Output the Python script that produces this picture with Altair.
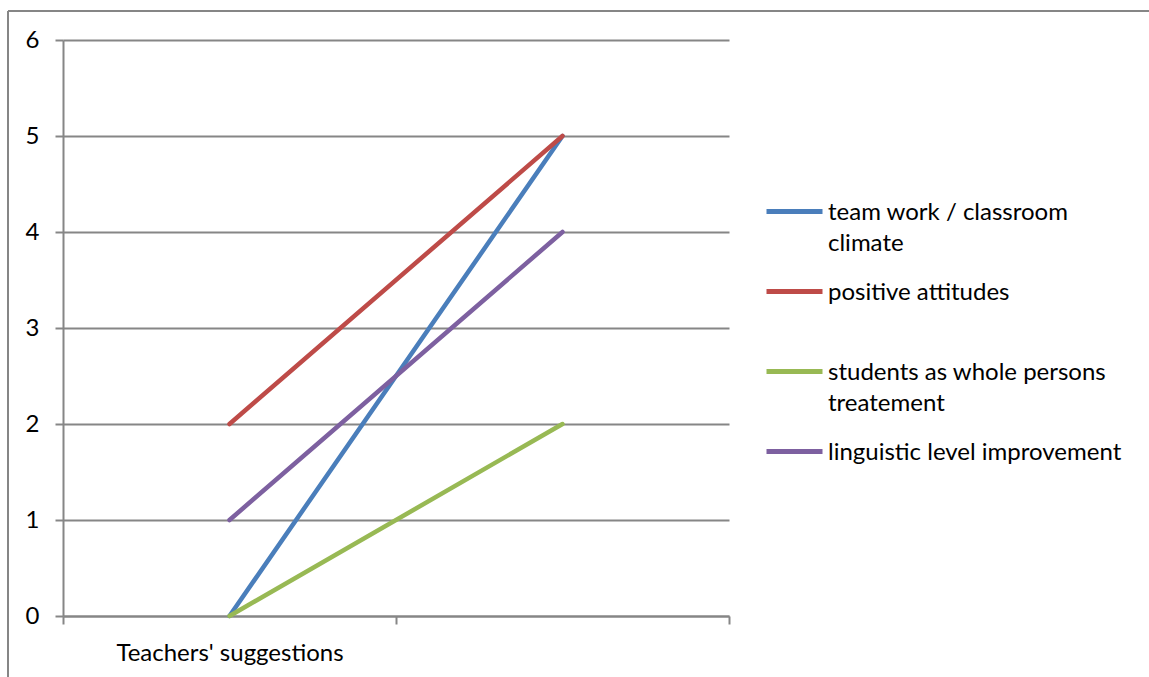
import altair as alt
import pandas as pd

# Categories on the x axis (the second one carries no label)
categories = ["Teachers' suggestions", ""]

# Series names and their values per category
series = [
    "team work / classroom climate",
    "positive attitudes",
    "students as whole persons treatement",
    "linguistic level improvement",
]
team_work = [0, 5]
positive = [2, 5]
whole_persons = [0, 2]
linguistic = [1, 4]

colors = ["#4A7EBB", "#BE4B48", "#98B954", "#7D60A0"]

# Wrapped legend text for the long names
wrapped = {
    "team work / classroom climate": ["team work / classroom", "climate"],
    "students as whole persons treatement": ["students as whole persons", "treatement"],
}

rows = []
for name, vals in zip(series, [team_work, positive, whole_persons, linguistic]):
    for cat, v in zip(categories, vals):
        rows.append({"category": cat, "series": name, "value": v})
df = pd.DataFrame(rows)

label_expr = " : ".join(
    f"datum.label == '{k}' ? {v!r}" for k, v in wrapped.items()
) + " : datum.label"

FONT = "Lato"
FSIZE = 24
GRID = "#868686"
# Shared label lift (moves legend labels onto their symbol line; axes compensate)
LIFT = 11

lines = alt.Chart(df).mark_line(strokeWidth=4.5, strokeCap="round").encode(
    x=alt.X(
        "category:N",
        sort=categories,
        bandPosition=0.5,
        scale=alt.Scale(type="band", paddingInner=0, paddingOuter=0),
        axis=alt.Axis(
            title=None,
            labelAngle=0,
            tickBand="extent",
            grid=False,
            domainColor=GRID,
            tickColor=GRID,
            domainWidth=2,
            tickWidth=2,
            tickSize=8,
            labelPadding=17 + LIFT,
            labelLimit=400,
            labelFontSize=FSIZE,
            labelFont=FONT,
            labelColor="#000000",
        ),
    ),
    y=alt.Y(
        "value:Q",
        scale=alt.Scale(domain=[0, 6], nice=False),
        axis=alt.Axis(
            title=None,
            values=[0, 1, 2, 3, 4, 5, 6],
            grid=True,
            gridColor=GRID,
            gridWidth=2,
            domainColor=GRID,
            tickColor=GRID,
            domainWidth=2,
            tickWidth=2,
            tickSize=8,
            labelPadding=16,
            labelOffset=LIFT,
            labelFontSize=FSIZE,
            labelFont=FONT,
            labelColor="#000000",
        ),
    ),
    color=alt.Color(
        "series:N",
        sort=series,
        scale=alt.Scale(domain=series, range=colors),
        legend=alt.Legend(
            title=None,
            orient="none",
            legendX=701,
            legendY=141,
            symbolType="stroke",
            symbolSize=3136,
            symbolStrokeWidth=5,
            labelExpr=label_expr,
            labelFont=FONT,
            labelFontSize=FSIZE,
            labelColor="#000000",
            labelOffset=3,
            labelBaseline="top",
            labelLimit=420,
            rowPadding=5,
            gridAlign="all",
        ),
    ),
)

# Outer frame of the chart
frame_top = alt.Chart(df).mark_rule(color=GRID, strokeWidth=1.5).encode(
    x=alt.value(-55), x2=alt.value(1100), y=alt.value(-29)
)
frame_left = alt.Chart(df).mark_rule(color=GRID, strokeWidth=1.5).encode(
    x=alt.value(-55), y=alt.value(-29), y2=alt.value(650)
)

chart = (
    alt.layer(frame_top, frame_left, lines)
    .properties(
        width=666,
        height=576,
        autosize=alt.AutoSizeParams(type="none"),
        padding={"left": 63, "top": 40, "right": 420, "bottom": 61},
        background="#ffffff",
    )
    .configure(style={"guide-label": {"dy": -LIFT, "lineHeight": 31}})
    .configure_view(stroke=None)
)

chart.save("out.html", embed_options={"renderer": "svg", "actions": False})
